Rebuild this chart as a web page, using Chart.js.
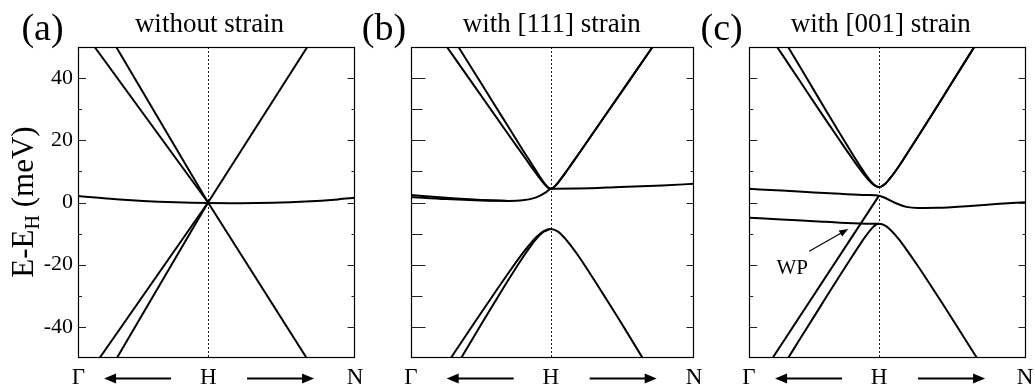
<!DOCTYPE html>
<html><head><meta charset="utf-8">
<script src="https://cdn.jsdelivr.net/npm/chart.js@4"></script>
<style>
html,body{margin:0;padding:0;background:#fff;}
#fig{position:relative;width:1035px;height:386px;overflow:hidden;font-family:"Liberation Serif","Times New Roman",serif;color:#000;background:#fff;}
canvas{position:absolute;top:0;}
.lbl{position:absolute;white-space:nowrap;line-height:1;transform:translateX(-50%);}
</style></head><body>
<div id="fig">
<canvas id="ca" width="365" height="386" style="left:0px"></canvas>
<canvas id="cb" width="335" height="386" style="left:365px"></canvas>
<canvas id="cc" width="335" height="386" style="left:700px"></canvas>

<div class="lbl" style="left:42.5px;top:8px;font-size:38px;">(a)</div>
<div class="lbl" style="left:384px;top:8px;font-size:38px;">(b)</div>
<div class="lbl" style="left:721.7px;top:8px;font-size:38px;">(c)</div>

<div class="lbl" style="left:209.5px;top:10.4px;font-size:27px;">without strain</div>
<div class="lbl" style="left:551.7px;top:10.4px;font-size:27px;">with [111] strain</div>
<div class="lbl" style="left:880.8px;top:10.4px;font-size:27px;">with [001] strain</div>

<div class="lbl" style="left:78.3px;top:365px;font-size:23px;">Γ</div>
<div class="lbl" style="left:208.3px;top:365px;font-size:23px;">H</div>
<div class="lbl" style="left:355px;top:365px;font-size:23px;">N</div>
<div class="lbl" style="left:411px;top:365px;font-size:23px;">Γ</div>
<div class="lbl" style="left:550.7px;top:365px;font-size:23px;">H</div>
<div class="lbl" style="left:694px;top:365px;font-size:23px;">N</div>
<div class="lbl" style="left:749px;top:365px;font-size:23px;">Γ</div>
<div class="lbl" style="left:879px;top:365px;font-size:23px;">H</div>
<div class="lbl" style="left:1025px;top:365px;font-size:23px;">N</div>

<div class="lbl" style="left:792.3px;top:257.4px;font-size:21px;">WP</div>

<div style="position:absolute;left:22.2px;top:202px;font-size:31px;line-height:1;white-space:nowrap;transform:translate(-50%,-50%) rotate(-90deg);">E-E<span style="font-size:20px;position:relative;top:6px;">H</span> (meV)</div>
</div>

<script>
// ---------- tick values ----------
const yTickValues = [-40, -20, 0, 20, 40];
const yMinorTickValues = [-30, -10, 10, 30];
const yRange = [-50, 50];

// ---------- panel (a): without strain  [k, E(meV)] ----------
const a_upperLeftOuter = [[-0.872, 50], [0, 0]];
const a_upperLeftInner = [[-0.706, 50], [0, 0]];
const a_lowerLeftOuter = [[-0.834, -50], [0, 0]];
const a_lowerLeftInner = [[-0.701, -50], [0, 0]];
const a_upperRight = [[0, 0], [0.763, 50]];
const a_lowerRight = [[0, 0], [0.758, -50]];
const a_flat = [[-1, 2.1], [-0.75, 1.2], [-0.5, 0.5], [-0.25, 0.05], [0, -0.2], [0.25, -0.25], [0.5, -0.1], [0.75, 0.3], [1.0, 1.0], [1.13, 1.5]];

// ---------- panel (b): with [111] strain ----------
const b_upperOuter = [[-0.743, 50], [-0.6, 40.9], [-0.5, 34.5], [-0.4, 28.1], [-0.3, 21.7], [-0.2, 15.4], [-0.15, 12.2], [-0.1, 9.1], [-0.07, 7.3], [-0.04, 5.65], [-0.02, 4.8], [0, 4.4],
  [0.02, 4.8], [0.04, 5.7], [0.06, 6.8], [0.1, 9.2], [0.15, 12.4], [0.2, 15.6], [0.3, 22.1], [0.4, 28.6], [0.5, 35.1], [0.6, 41.6], [0.729, 50]];
const b_upperInner = [[-0.66, 50], [-0.5, 38.5], [-0.4, 31.3], [-0.3, 24.1], [-0.2, 16.9], [-0.15, 13.4], [-0.1, 9.9], [-0.07, 7.8], [-0.04, 5.9], [-0.02, 4.9], [0, 4.4],
  [0.02, 4.8], [0.04, 5.7], [0.06, 6.8], [0.1, 9.2], [0.15, 12.4], [0.2, 15.6], [0.3, 22.1], [0.4, 28.6], [0.5, 35.1], [0.6, 41.6], [0.729, 50]];
const b_flatA = [[-1, 2.4], [-0.75, 1.5], [-0.5, 0.8], [-0.3, 0.5], [-0.2, 0.7], [-0.12, 1.4], [-0.076, 2.2], [-0.03, 3.4], [0, 4.4],
  [0.2, 4.5], [0.5, 5.0], [0.8, 5.5], [1.026, 6.0]];
const b_flatB = [[-1, 1.8], [-0.75, 1.1], [-0.5, 0.65], [-0.3, 0.5]];
const b_lowerOuter = [[-0.715, -50], [-0.6, -42.3], [-0.5, -35.6], [-0.4, -29.0], [-0.3, -22.5], [-0.2, -16.3], [-0.15, -13.5], [-0.1, -11.0], [-0.05, -9.2], [0, -8.5],
  [0.05, -9.3], [0.1, -11.4], [0.15, -14.2], [0.2, -17.3], [0.3, -24.1], [0.4, -31.2], [0.5, -38.35], [0.658, -50]];
const b_lowerInner = [[-0.641, -50], [-0.5, -39.4], [-0.4, -32.0], [-0.3, -24.7], [-0.2, -17.7], [-0.15, -14.45], [-0.1, -11.55], [-0.05, -9.4], [0, -8.5]];

// ---------- panel (c): with [001] strain ----------
const c_upperOuter = [[-0.784, 50], [-0.6, 38.5], [-0.5, 32.2], [-0.4, 26.0], [-0.3, 19.85], [-0.2, 13.8], [-0.15, 10.9], [-0.1, 8.2], [-0.05, 5.97], [-0.02, 5.17], [0, 5.0],
  [0.02, 5.2], [0.05, 6.1], [0.1, 8.6], [0.15, 11.5], [0.2, 14.7], [0.3, 21.2], [0.4, 27.8], [0.5, 34.5], [0.6, 41.2], [0.732, 50]];
const c_upperInner = [[-0.699, 50], [-0.6, 43.1], [-0.5, 36.05], [-0.4, 29.05], [-0.3, 22.1], [-0.2, 15.3], [-0.15, 12.0], [-0.1, 8.8], [-0.05, 6.2], [-0.02, 5.2], [0, 5.0],
  [0.02, 5.2], [0.05, 6.1], [0.1, 8.6], [0.15, 11.5], [0.2, 14.7], [0.3, 21.2], [0.4, 27.8], [0.5, 34.5], [0.6, 41.2], [0.732, 50]];
const c_flatUpper = [[-1, 4.4], [-0.75, 3.85], [-0.5, 3.25], [-0.3, 2.8], [-0.1, 2.4], [0, 2.2],
  [0.06, 1.2], [0.14, -0.4], [0.21, -1.4], [0.3, -1.75], [0.45, -1.7], [0.7, -1.1], [0.9, -0.5], [1.13, 0.1]];
const c_weylLine = [[-0.819, -50], [0, 2.2]];
const c_flatLower = [[-1, -4.9], [-0.75, -5.5], [-0.5, -6.0], [-0.3, -6.5], [-0.1, -6.8], [0, -6.85]];
const c_lowerBand = [[-0.699, -50], [-0.6, -43.35], [-0.5, -36.7], [-0.4, -30.0], [-0.3, -23.4], [-0.2, -16.9], [-0.15, -13.7], [-0.1, -10.67], [-0.05, -8.07], [-0.02, -7.07], [0, -6.85],
  [0.05, -7.5], [0.1, -9.3], [0.15, -11.7], [0.2, -14.5], [0.3, -20.5], [0.4, -26.85], [0.5, -33.3], [0.6, -39.9], [0.753, -50]];
const c_wpArrow = [[-0.537, -15.7], [-0.237, -8.5]];

// ---------- drawing helpers ----------
function arrowHead(ctx, x1, y1, x2, y2, len, half) {
  const a = Math.atan2(y2 - y1, x2 - x1);
  ctx.beginPath();
  ctx.moveTo(x2, y2);
  ctx.lineTo(x2 - len * Math.cos(a) + half * Math.sin(a), y2 - len * Math.sin(a) - half * Math.cos(a));
  ctx.lineTo(x2 - len * Math.cos(a) - half * Math.sin(a), y2 - len * Math.sin(a) + half * Math.cos(a));
  ctx.closePath();
  ctx.fill();
}

const framePlugin = {
  id: 'frame',
  beforeDatasetsDraw(chart) {
    const {ctx, chartArea: ca, scales: {x}} = chart;
    const hx = Math.round(x.getPixelForValue(0)) + 0.5;
    ctx.save();
    ctx.strokeStyle = '#222';
    ctx.lineWidth = 1;
    ctx.setLineDash([2, 2]);
    ctx.beginPath();
    ctx.moveTo(hx, ca.top);
    ctx.lineTo(hx, ca.bottom);
    ctx.stroke();
    ctx.restore();
  },
  afterDatasetsDraw(chart, args, o) {
    const {ctx, chartArea: ca, scales: {x, y}} = chart;
    ctx.save();
    const L = Math.round(ca.left) + 0.5, R = Math.round(ca.right) - 0.5;
    const T = Math.round(ca.top) + 0.5, B = Math.round(ca.bottom) - 0.5;
    ctx.strokeStyle = '#000';
    ctx.lineWidth = 1.2;
    ctx.strokeRect(L, T, R - L, B - T);
    ctx.lineWidth = 1.1;
    ctx.strokeStyle = '#222';
    const draw = (vals, lenL, lenR) => {
      vals.forEach(v => {
        const py = Math.round(y.getPixelForValue(v)) + 0.5;
        ctx.beginPath();
        ctx.moveTo(L, py); ctx.lineTo(L + lenL, py);
        ctx.moveTo(R, py); ctx.lineTo(R - lenR, py);
        ctx.stroke();
      });
    };
    draw(yTickValues, o.leftMajor, o.rightMajor);
    draw(yMinorTickValues, o.leftMinor, o.rightMinor);

    // bottom direction arrows
    const hx = x.getPixelForValue(0);
    const ay = 378.5;
    ctx.strokeStyle = '#000';
    ctx.fillStyle = '#000';
    ctx.lineWidth = 2;
    ctx.beginPath();
    ctx.moveTo(hx - 37, ay); ctx.lineTo(hx - 100, ay);
    ctx.moveTo(hx + 39, ay); ctx.lineTo(hx + 102, ay);
    ctx.stroke();
    arrowHead(ctx, hx - 37, ay, hx - 104, ay, 12, 5);
    arrowHead(ctx, hx + 39, ay, hx + 106, ay, 12, 5);

    if (o.wp) {
      const x1 = x.getPixelForValue(o.wp[0][0]), y1 = y.getPixelForValue(o.wp[0][1]);
      const x2 = x.getPixelForValue(o.wp[1][0]), y2 = y.getPixelForValue(o.wp[1][1]);
      ctx.lineWidth = 1.2;
      ctx.beginPath();
      ctx.moveTo(x1, y1); ctx.lineTo(x2 - 0.8 * (x2 - x1) / 8, y2 - 0.8 * (y2 - y1) / 8);
      ctx.stroke();
      arrowHead(ctx, x1, y1, x2, y2, 9, 3.5);
    }
    ctx.restore();
  }
};

function ds(pts, smooth) {
  return {
    data: pts.map(p => ({x: p[0], y: p[1]})),
    borderColor: '#000',
    borderWidth: 2,
    pointRadius: 0,
    pointHoverRadius: 0,
    fill: false,
    tension: 0,
    cubicInterpolationMode: smooth ? 'monotone' : 'default'
  };
}

function makeChart(id, datasets, cfg) {
  return new Chart(document.getElementById(id), {
    type: 'line',
    data: {datasets},
    options: {
      responsive: false,
      animation: false,
      devicePixelRatio: 1,
      events: [],
      layout: {padding: {left: cfg.padLeft, right: cfg.padRight, top: 47, bottom: 28}},
      plugins: {
        legend: {display: false},
        tooltip: {enabled: false},
        frame: cfg.frame
      },
      scales: {
        x: {type: 'linear', min: -1, max: cfg.xMax, display: false},
        y: {
          type: 'linear', min: yRange[0], max: yRange[1],
          display: cfg.showY,
          grid: {display: false, drawTicks: false},
          border: {display: false},
          afterBuildTicks: s => { s.ticks = yTickValues.map(v => ({value: v})); },
          afterFit: s => { s.width = cfg.yWidth || 0; },
          ticks: {
            padding: 5,
            color: '#000',
            font: {family: '"Liberation Serif","Times New Roman",serif', size: 22},
            callback: v => String(v)
          }
        }
      }
    },
    plugins: [framePlugin]
  });
}

makeChart('ca', [
  ds(a_upperLeftOuter, false), ds(a_upperLeftInner, false),
  ds(a_lowerLeftOuter, false), ds(a_lowerLeftInner, false),
  ds(a_upperRight, false), ds(a_lowerRight, false),
  ds(a_flat, true)
], {padLeft: 0, padRight: 10, xMax: 1.13, showY: true, yWidth: 78,
    frame: {leftMajor: 7.5, leftMinor: 3.5, rightMajor: 7, rightMinor: 3}});

makeChart('cb', [
  ds(b_upperOuter, true), ds(b_upperInner, true),
  ds(b_flatA, true), ds(b_flatB, true),
  ds(b_lowerOuter, true), ds(b_lowerInner, true)
], {padLeft: 46, padRight: 6, xMax: 1.026, showY: false,
    frame: {leftMajor: 14, leftMinor: 11, rightMajor: 7, rightMinor: 3}});

makeChart('cc', [
  ds(c_upperOuter, true), ds(c_upperInner, true),
  ds(c_flatUpper, true), ds(c_weylLine, false),
  ds(c_flatLower, true), ds(c_lowerBand, true)
], {padLeft: 49, padRight: 9, xMax: 1.13, showY: false,
    frame: {leftMajor: 7.7, leftMinor: 3.7, rightMajor: 7, rightMinor: 3, wp: c_wpArrow}});
</script>
</body></html>
